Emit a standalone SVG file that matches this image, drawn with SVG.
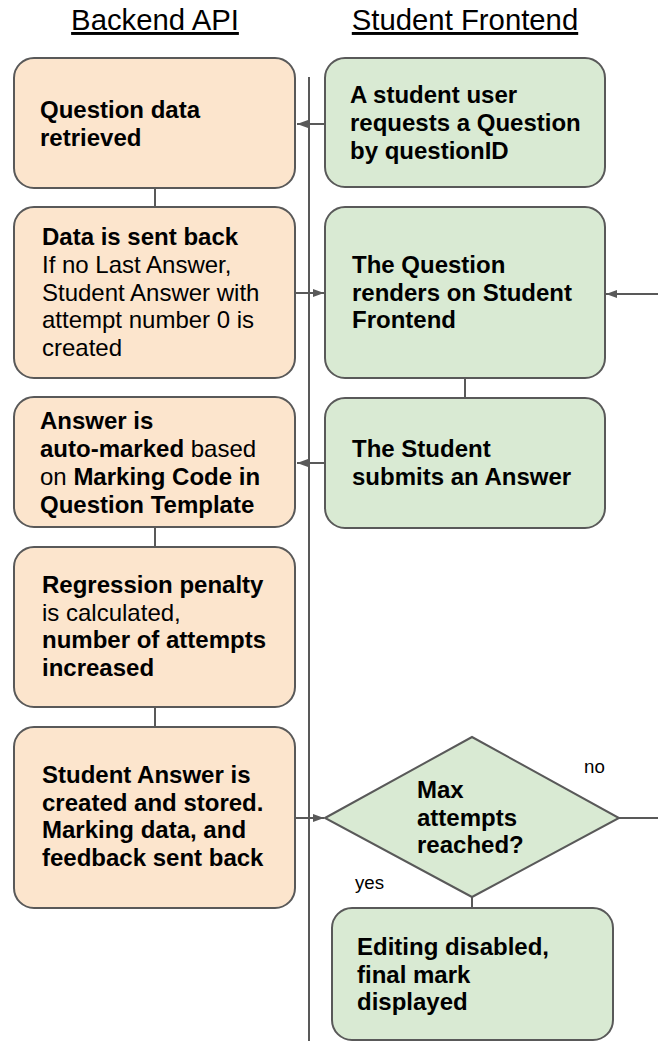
<svg xmlns="http://www.w3.org/2000/svg" width="658" height="1041" viewBox="0 0 658 1041">
<defs>
<style>
.t{font-family:"Liberation Sans",Arial,sans-serif;font-size:24px;fill:#000}
.b{font-weight:bold}
.title{font-family:"Liberation Sans",Arial,sans-serif;font-size:29.3px;fill:#000;text-decoration:underline}
.lbl{font-family:"Liberation Sans",Arial,sans-serif;font-size:18.7px;fill:#000}
.or{fill:#fce5cd;stroke:#595959;stroke-width:2}
.gr{fill:#d9ead3;stroke:#595959;stroke-width:2}
.ln{fill:none;stroke:#595959;stroke-width:2}
</style>
<marker id="ah" markerWidth="12" markerHeight="10" refX="11" refY="5" orient="auto" markerUnits="userSpaceOnUse">
<path d="M0,1 L11,5 L0,9 Z" fill="#595959"/>
</marker>
</defs>
<rect width="658" height="1041" fill="#ffffff"/>
<g id="titles">
<text class="title" x="155" y="30" text-anchor="middle">Backend API</text>
<text class="title" x="465" y="30" text-anchor="middle">Student Frontend</text>
</g>
<g id="connectors">
<line class="ln" x1="309" y1="77" x2="309" y2="1041"/>
<line class="ln" x1="325" y1="124" x2="297" y2="124" marker-end="url(#ah)"/>
<line class="ln" x1="155" y1="188" x2="155" y2="207"/>
<line class="ln" x1="296" y1="293" x2="324" y2="293" marker-end="url(#ah)"/>
<line class="ln" x1="658" y1="294" x2="606" y2="294" marker-end="url(#ah)"/>
<line class="ln" x1="465" y1="378" x2="465" y2="398"/>
<line class="ln" x1="325" y1="463" x2="297" y2="463" marker-end="url(#ah)"/>
<line class="ln" x1="155" y1="527" x2="155" y2="547"/>
<line class="ln" x1="155" y1="707" x2="155" y2="727"/>
<line class="ln" x1="296" y1="818" x2="324" y2="818" marker-end="url(#ah)"/>
<line class="ln" x1="619" y1="818" x2="658" y2="818"/>
<line class="ln" x1="472" y1="897" x2="472" y2="908"/>
<text class="lbl" x="584" y="773">no</text>
<text class="lbl" x="355" y="889">yes</text>
</g>
<g id="n1">
<rect class="or" x="14" y="58" width="281" height="130" rx="20"/>
<text class="t b" x="40" y="118">Question data</text>
<text class="t b" x="40" y="146">retrieved</text>
</g>
<g id="s1">
<rect class="gr" x="325" y="58" width="280" height="129" rx="20"/>
<text class="t b" x="350" y="103">A student user</text>
<text class="t b" x="350" y="131">requests a Question</text>
<text class="t b" x="350" y="159">by questionID</text>
</g>
<g id="n2">
<rect class="or" x="14" y="207" width="281" height="171" rx="20"/>
<text class="t b" x="42" y="245">Data is sent back</text>
<text class="t" x="42" y="273">If no Last Answer,</text>
<text class="t" x="42" y="301">Student Answer with</text>
<text class="t" x="42" y="328">attempt number 0 is</text>
<text class="t" x="42" y="356">created</text>
</g>
<g id="s2">
<rect class="gr" x="325" y="207" width="280" height="171" rx="20"/>
<text class="t b" x="352" y="273">The Question</text>
<text class="t b" x="352" y="301">renders on Student</text>
<text class="t b" x="352" y="328">Frontend</text>
</g>
<g id="n3">
<rect class="or" x="14" y="397" width="281" height="130" rx="20"/>
<text class="t b" x="40" y="429">Answer is</text>
<text class="t" x="40" y="457"><tspan class="b">auto-marked</tspan> based</text>
<text class="t" x="40" y="485">on <tspan class="b">Marking Code in</tspan></text>
<text class="t b" x="40" y="513">Question Template</text>
</g>
<g id="s3">
<rect class="gr" x="325" y="398" width="280" height="130" rx="20"/>
<text class="t b" x="352" y="457">The Student</text>
<text class="t b" x="352" y="485">submits an Answer</text>
</g>
<g id="n4">
<rect class="or" x="14" y="547" width="281" height="160" rx="20"/>
<text class="t b" x="42" y="593">Regression penalty</text>
<text class="t" x="42" y="621">is calculated,</text>
<text class="t b" x="42" y="648">number of attempts</text>
<text class="t b" x="42" y="676">increased</text>
</g>
<g id="n5">
<rect class="or" x="14" y="727" width="281" height="181" rx="20"/>
<text class="t b" x="42" y="783">Student Answer is</text>
<text class="t b" x="42" y="811">created and stored.</text>
<text class="t b" x="42" y="838">Marking data, and</text>
<text class="t b" x="42" y="866">feedback sent back</text>
</g>
<g id="d1">
<polygon class="gr" points="325,818 472,737 619,818 472,897"/>
<text class="t b" x="417" y="798">Max</text>
<text class="t b" x="417" y="826">attempts</text>
<text class="t b" x="417" y="853">reached?</text>
</g>
<g id="s4">
<rect class="gr" x="332" y="908" width="281" height="132" rx="20"/>
<text class="t b" x="357" y="955">Editing disabled,</text>
<text class="t b" x="357" y="983">final mark</text>
<text class="t b" x="357" y="1010">displayed</text>
</g>
</svg>
